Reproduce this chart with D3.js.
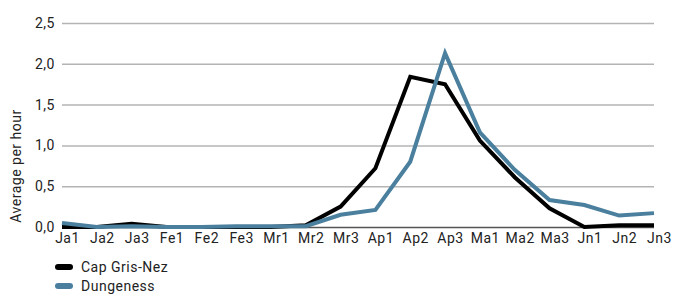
<html>
<head>
<script src="https://d3js.org/d3.v7.min.js"></script>
<style>
body { margin:0; background:#fff; }
text { font-family: Roboto, "DejaVu Sans", sans-serif; fill:#222; letter-spacing:0.5px; }
</style>
</head>
<body>
<div id="chart"></div>
<script>
	// ten-day periods, Jan to Jun
	var periods = ["Ja1","Ja2","Ja3","Fe1","Fe2","Fe3","Mr1","Mr2","Mr3","Ap1","Ap2","Ap3","Ma1","Ma2","Ma3","Jn1","Jn2","Jn3"];
	var capGrisNez = [0.0,0.0,0.04,0.0,0.0,0.0,0.0,0.02,0.25,0.72,1.84,1.75,1.06,0.61,0.23,0.0,0.02,0.02];
	var dungeness = [0.05,0.0,0.01,0.0,0.0,0.01,0.01,0.01,0.15,0.21,0.8,2.13,1.16,0.7,0.33,0.27,0.14,0.17];
	var yTicks = [0,0.5,1,1.5,2,2.5];
	var seriesNames = ["Cap Gris-Nez","Dungeness"];
	var seriesColors = ["#000000","#4a7f9e"];

	var width = 675, height = 294;
	var svg = d3.select("#chart").append("svg")
		.attr("width", width)
		.attr("height", height);

	var x = d3.scalePoint().domain(periods).range([62, 654]);
	var y = d3.scaleLinear().domain([0, 2.5]).range([227, 23]);
	var fmt = function(d){ return d3.format(".1f")(d).replace(".", ","); };

	//gridlines + y labels
	var yAxis = svg.append("g")
		.attr("transform", "translate(62,0)")
		.call(d3.axisLeft(y).tickValues(yTicks).tickSize(-592).tickFormat(fmt).tickPadding(7));
	yAxis.select(".domain").remove();
	yAxis.selectAll("line").attr("stroke", "#b4b4b4").attr("stroke-width", 1.5);
	yAxis.selectAll("text").style("font-size", "14px").attr("fill", "#222");
	yAxis.selectAll(".tick").filter(function(d){ return d === 0; })
		.select("line").attr("stroke", "#555");

	//x labels
	var xAxis = svg.append("g")
		.attr("transform", "translate(5,227)")
		.call(d3.axisBottom(x).tickSize(0).tickPadding(6));
	xAxis.select(".domain").remove();
	xAxis.selectAll("text").style("font-size", "14px").attr("fill", "#222");

	svg.append("text")
		.attr("transform", "translate(21,166) rotate(-90)")
		.attr("text-anchor", "middle")
		.style("font-size", "14px")
		.text("Average per hour");

	var line = d3.line()
		.x(function(d, i){ return x(periods[i]); })
		.y(function(d){ return y(d); });

	[capGrisNez, dungeness].forEach(function(s, i){
		svg.append("path")
			.datum(s)
			.attr("d", line)
			.attr("fill", "none")
			.attr("stroke", seriesColors[i])
			.attr("stroke-width", 4)
			.attr("stroke-linejoin", "miter");
	});

	//legend
	var legend = svg.append("g").attr("transform", "translate(58,267)");
	seriesNames.forEach(function(n, i){
		var g = legend.append("g").attr("transform", "translate(0," + (i * 19) + ")");
		g.append("line")
			.attr("x1", 0).attr("x2", 12)
			.attr("stroke", seriesColors[i])
			.attr("stroke-width", 6)
			.attr("stroke-linecap", "round");
		g.append("text")
			.attr("x", 23).attr("dy", "0.35em")
			.style("font-size", "14px")
			.text(n);
	});
</script>
</body>
</html>
